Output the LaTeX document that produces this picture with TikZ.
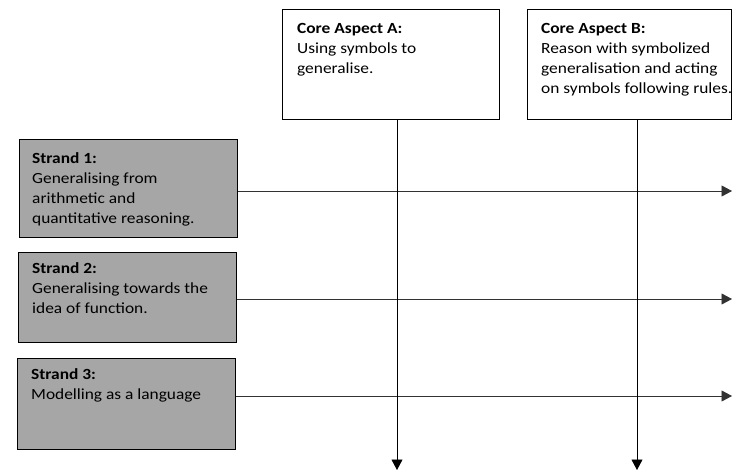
\documentclass[tikz,border=0pt]{standalone}
\usepackage{fontspec}
\setmainfont{Carlito}[FakeStretch=1.12]
\usetikzlibrary{arrows.meta}
\definecolor{strandgray}{RGB}{166,166,166}
\definecolor{linkgray}{RGB}{50,50,50}
\tikzset{
  every picture/.style={x=1pt,y=-1pt},
  aspectbox/.style={draw=black, line width=0.9pt, fill=white, anchor=north west, inner sep=0pt},
  strandbox/.style={draw=black, line width=0.9pt, fill=strandgray, anchor=north west, inner sep=0pt},
  label/.style={anchor=north west, align=left, inner sep=0pt, font=\fontsize{15.5}{20}\selectfont},
  flow/.style={line width=0.8pt, -{Triangle[length=10.5pt,width=11pt]}},
}
\begin{document}
\begin{tikzpicture}
\useasboundingbox (0,0) rectangle (733,471);

% core aspects across the top
\node[aspectbox, minimum width=217pt, minimum height=110pt] (A) at (282,9) {};
\node[aspectbox, minimum width=204pt, minimum height=110pt] (B) at (527,9) {};
\node[label] (At) at (297,23.5) {\textbf{Core Aspect A:}\\Using symbols to\\generalise.};
\node[label] (Bt) at (541,23.5) {\textbf{Core Aspect B:}\\Reason with symbolized\\generalisation and acting\\on symbols following rules.};

% strands down the left
\node[strandbox, minimum width=218pt, minimum height=98pt] (S1) at (19,139) {};
\node[strandbox, minimum width=218pt, minimum height=90pt] (S2) at (18,252) {};
\node[strandbox, minimum width=218pt, minimum height=91pt] (S3) at (17,358) {};
\node[label] (S1t) at (32,152.5) {\textbf{Strand 1:}\\Generalising from\\arithmetic and\\quantitative reasoning.};
\node[label] (S2t) at (32,262.5) {\textbf{Strand 2:}\\Generalising towards the\\idea of function.};
\node[label] (S3t) at (31,368) {\textbf{Strand 3:}\\Modelling as a language};

% arrow end points
\coordinate (Aend) at (397,470);
\coordinate (Bend) at (637,470);
\coordinate (S1end) at (732,191);
\coordinate (S2end) at (732,299);
\coordinate (S3end) at (732,396);

% horizontal strand arrows
\draw[flow, draw=linkgray] (S1.east |- S1end) -- (S1end);
\draw[flow, draw=linkgray] (S2.east |- S2end) -- (S2end);
\draw[flow, draw=linkgray] (S3.east |- S3end) -- (S3end);

% vertical aspect arrows
\draw[flow] (A.south -| Aend) -- (Aend);
\draw[flow] (B.south -| Bend) -- (Bend);
\end{tikzpicture}
\end{document}
